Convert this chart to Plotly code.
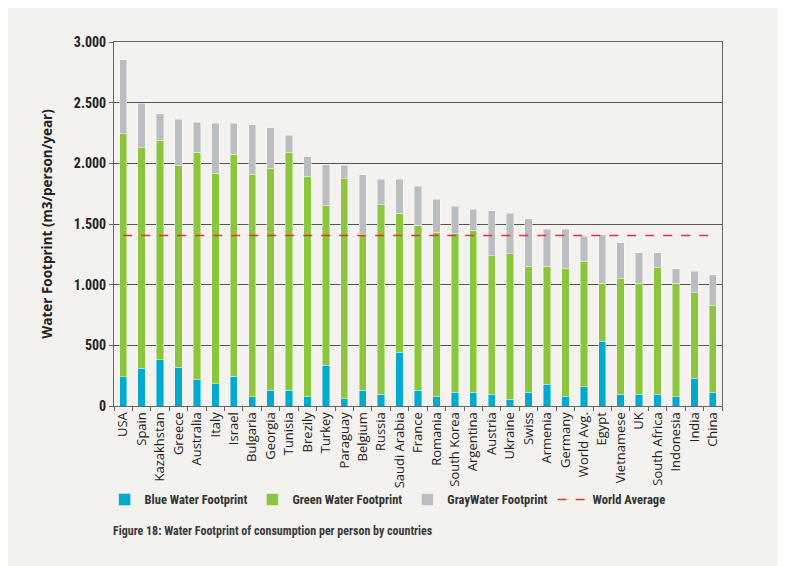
"""Water footprint of consumption per person, stacked by footprint type."""

import plotly.graph_objects as go

countries = [
    "USA", "Spain", "Kazakhstan", "Greece", "Australia", "Italy", "Israel",
    "Bulgaria", "Georgia", "Tunisia", "Brezily", "Turkey", "Paraguay",
    "Belgium", "Russia", "Saudi Arabia", "France", "Romania", "South Korea",
    "Argentina", "Austria", "Ukraine", "Swiss", "Armenia", "Germany",
    "World Avg.", "Egypt", "Vietnamese", "UK", "South Africa", "Indonesia",
    "India", "China",
]
blue_water = [
    240, 310, 380, 320, 215, 185, 245, 75, 130, 130, 75, 335, 60, 130, 95,
    445, 130, 75, 115, 115, 95, 55, 115, 180, 80, 160, 535, 95, 95, 95, 75,
    230, 115,
]
green_water = [
    2005, 1820, 1810, 1665, 1875, 1735, 1830, 1835, 1830, 1960, 1820, 1320,
    1815, 1285, 1565, 1145, 1360, 1355, 1305, 1335, 1145, 1200, 1035, 970,
    1055, 1030, 475, 955, 915, 1050, 935, 705, 715,
]
gray_water = [
    610, 365, 220, 380, 250, 410, 255, 410, 335, 140, 160, 335, 110, 490, 210,
    280, 320, 275, 225, 170, 370, 335, 395, 305, 320, 210, 400, 295, 255, 120,
    120, 175, 250,
]
world_average = 1405
y_ticks = [0, 500, 1000, 1500, 2000, 2500, 3000]

BG = "#F4F2EE"
NARROW = ("Roboto Condensed, Noto Sans Condensed, Open Sans Condensed, "
          "DejaVu Sans Condensed, Roboto, sans-serif")
bar_line = dict(width=0.6, color="rgba(255,255,255,0.7)")

fig = go.Figure()
fig.add_trace(go.Bar(x=countries, y=blue_water, name="Blue Water Footprint",
                     marker=dict(color="#00A9CE", line=bar_line)))
fig.add_trace(go.Bar(x=countries, y=green_water, name="Green Water Footprint",
                     marker=dict(color="#8CC63F", line=bar_line)))
fig.add_trace(go.Bar(x=countries, y=gray_water, name="GrayWater Footprint",
                     marker=dict(color="#BCBDC1", line=bar_line)))
fig.add_trace(go.Scatter(
    x=countries, y=[world_average] * len(countries), name="World Average",
    mode="lines", line=dict(color="#E0343C", width=1.6, dash="dash"),
))

# the page body adds an 8px margin, so the margins here are 8px smaller
fig.update_layout(
    width=785,
    height=566,
    barmode="stack",
    bargap=0.6,
    separators=",.",
    paper_bgcolor=BG,
    plot_bgcolor=BG,
    margin=dict(l=106, r=71, t=34, b=168),
    showlegend=True,
    legend=dict(
        orientation="h",
        x=0.45,
        y=-0.258,
        xanchor="center",
        yanchor="middle",
        traceorder="normal",
        bgcolor="rgba(0,0,0,0)",
        font=dict(family=NARROW, size=12.5, color="#333333", weight="bold"),
        itemwidth=30,
    ),
    annotations=[dict(
        text="Figure 18: Water Footprint of consumption per person by countries",
        xref="paper", yref="paper", x=-0.005, y=-0.343,
        xanchor="left", yanchor="middle", showarrow=False,
        font=dict(family=NARROW, size=12, color="#3a3a3a", weight="bold"),
    )],
)
fig.update_xaxes(
    tickangle=-90,
    tickfont=dict(family="Open Sans, sans-serif", size=13, color="#222222"),
    showline=True, linecolor="#666666", linewidth=1, mirror=True,
    ticks="outside", tickson="boundaries", ticklen=4, tickcolor="#666666",
)
fig.update_yaxes(
    range=[0, 3000],
    tickvals=y_ticks,
    tickformat=",d",
    tickfont=dict(family=NARROW, size=14, color="#222222", weight="bold"),
    title=dict(text="Water Footprint (m3/person/year)",
               font=dict(family="Open Sans, sans-serif", size=13.5,
                         color="#222222", weight="bold"),
               standoff=18),
    showgrid=True, gridcolor="#555555", gridwidth=1,
    showline=True, linecolor="#666666", linewidth=1, mirror=True,
    ticks="outside", ticklen=4, tickcolor="#666666",
    zeroline=False,
)

fig.write_html("out.html")
